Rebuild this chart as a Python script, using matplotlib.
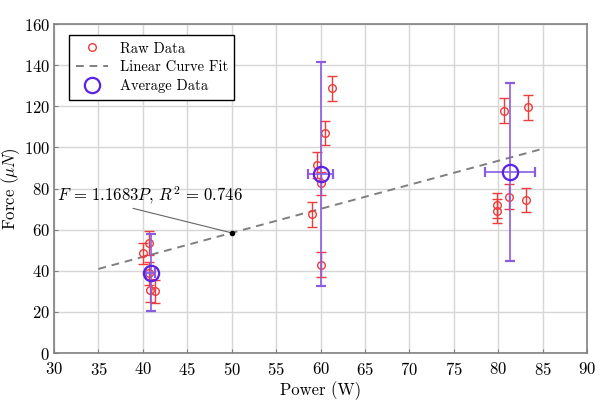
import matplotlib
matplotlib.use("Agg")
import matplotlib.pyplot as plt
from matplotlib.lines import Line2D
import numpy as np

plt.rcParams["font.family"] = "serif"
plt.rcParams["font.serif"] = ["cmr10", "DejaVu Serif"]
plt.rcParams["mathtext.fontset"] = "cm"
plt.rcParams["axes.formatter.use_mathtext"] = True

# raw measurements: power (W), force (uN), force error (uN)
raw_power = [40.7, 40.0, 40.7, 40.75, 41.4,
             61.3, 60.55, 59.6, 60.1, 59.0, 60.1,
             80.6, 83.4, 81.2, 83.1, 79.9, 79.9]
raw_force = [53.5, 48.4, 38.7, 30.4, 30.0,
             128.8, 107.0, 91.4, 82.6, 67.5, 43.0,
             117.9, 119.5, 76.1, 74.4, 71.8, 69.1]
raw_err = [5.8, 5.0, 5.5, 5.6, 5.6,
           6.0, 6.0, 6.2, 5.6, 6.0, 6.0,
           6.0, 6.0, 6.0, 6.0, 6.0, 6.0]

# averaged data
avg_power = [40.9, 60.0, 81.35]
avg_force = [39.0, 87.0, 88.1]
avg_force_err = [18.7, 54.5, 43.4]
avg_power_err = [0.5, 1.4, 2.85]

# linear fit through origin
fit_slope = 1.1683
fit_r2 = 0.746
fit_range = [35, 85]

red = "#ee3b3b"
purple_edge = "#5a22e6"
purple_err = "#8a5ce0"

fig = plt.figure(figsize=(6.09, 4.09), dpi=100)
ax = fig.add_axes([0.0887, 0.1369, 0.8752, 0.8044])

ax.errorbar(raw_power, raw_force, yerr=raw_err, fmt="o", ms=5.5, mfc="none",
            mec=red, mew=1.0, ecolor=red, elinewidth=1.0, capsize=3.5,
            capthick=1.0, zorder=3)

fit_x = np.array(fit_range, dtype=float)
ax.plot(fit_x, fit_slope * fit_x, color="#7f7f7f", lw=1.4,
        dashes=(4, 3), zorder=2)

ax.errorbar(avg_power, avg_force, yerr=avg_force_err, xerr=avg_power_err,
            fmt="o", ms=11, mfc="none", mec=purple_edge, mew=1.6,
            ecolor=purple_err, elinewidth=1.2, capsize=3.5, capthick=1.0,
            zorder=4)

# annotation of the fit
px = 50
ax.plot([px], [fit_slope * px], "o", color="black", ms=3, zorder=5)
ax.annotate(rf"$F\,=\,{fit_slope}P,\,R^2\,=\,{fit_r2}$", xy=(px, fit_slope * px),
            xytext=(30.3, 77.0), fontsize=12, va="center", ha="left",
            arrowprops=dict(arrowstyle="-", color="#666666", lw=0.8,
                            shrinkA=0, shrinkB=0,
                            relpos=(0.35, 0.0)))

ax.set_xlim(30, 90)
ax.set_ylim(0, 160)
ax.set_xticks(np.arange(30, 91, 5))
ax.set_yticks(np.arange(0, 161, 20))
ax.grid(True, color="#d6d6d6", lw=1.0)
ax.set_axisbelow(True)
for s in ax.spines.values():
    s.set_color("#808080")
    s.set_linewidth(1.2)
ax.tick_params(direction="in", length=3, color="#808080", labelsize=12)
ax.tick_params(axis="x", pad=6)
ax.tick_params(axis="y", pad=3)
ax.set_xlabel("Power (W)", fontsize=12, labelpad=2)
ax.set_ylabel(r"Force ($\mu N$)", fontsize=12, labelpad=1)

handles = [
    Line2D([], [], ls="none", marker="o", ms=5.5, mfc="none", mec=red, mew=1.0),
    Line2D([], [], color="#7f7f7f", lw=1.4, dashes=(4, 3)),
    Line2D([], [], ls="none", marker="o", ms=11, mfc="none", mec=purple_edge, mew=1.6),
]
labels = ["Raw Data", "Linear Curve Fit", "Average Data"]
leg = ax.legend(handles, labels, loc="upper left", bbox_to_anchor=(0.015, 0.988),
                fontsize=10.5, frameon=True, fancybox=False, edgecolor="black",
                framealpha=1.0, handlelength=2.2, borderpad=0.45,
                labelspacing=0.35)
leg.get_frame().set_linewidth(1.0)

fig.savefig("out.png", dpi=100)
